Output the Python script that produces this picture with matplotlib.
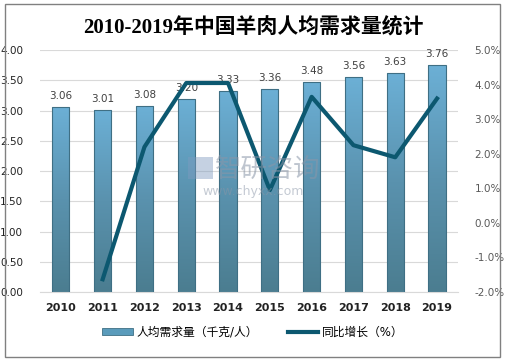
import numpy as np
import matplotlib.pyplot as plt
from matplotlib.patches import Rectangle
from matplotlib.lines import Line2D
from matplotlib.colors import LinearSegmentedColormap

plt.rcParams['font.family'] = ['DejaVu Sans', 'Noto Sans CJK SC']

# DADOS
anos = ['2010', '2011', '2012', '2013', '2014', '2015', '2016', '2017', '2018', '2019']
demanda = [3.06, 3.01, 3.08, 3.20, 3.33, 3.36, 3.48, 3.56, 3.63, 3.76]
anos_linha = ['2011', '2012', '2013', '2014', '2015', '2016', '2017', '2018', '2019']
crescimento = [-1.63, 2.2, 4.05, 4.05, 0.95, 3.65, 2.25, 1.9, 3.6]

fig = plt.figure(figsize=(5.06, 3.61), dpi=100)
ax = fig.add_axes([0.079, 0.191, 0.826, 0.670])

x = np.arange(len(anos))
grad = LinearSegmentedColormap.from_list('g', ['#4b7d90', '#5a92ae', '#6cb0d6'])
bars = ax.bar(x, demanda, width=0.41, color='none', edgecolor='#3f6f84', linewidth=0.8, zorder=3)
img = np.linspace(0, 1, 256).reshape(-1, 1)
for b in bars:
    im = ax.imshow(img, cmap=grad, origin='lower', aspect='auto',
                   extent=[b.get_x(), b.get_x() + b.get_width(), 0, b.get_height()], zorder=2)
    im.set_clip_path(b)
for xi, v in zip(x, demanda):
    ax.text(xi, v + 0.1, f'{v:.2f}', ha='center', va='bottom', fontsize=7.5, color='#404040', zorder=1)

ax.set_xlim(-0.5, len(anos) - 0.5)
ax.set_ylim(0, 4)
ax.set_yticks(np.arange(0, 4.01, 0.5))
ax.set_yticklabels([f'{v:.2f}' for v in np.arange(0, 4.01, 0.5)], fontsize=7.5, color='#222222')
ax.set_xticks(x)
ax.set_xticklabels(anos, fontsize=8, fontweight='bold', color='#222222')
ax.tick_params(axis='both', length=0)
ax.tick_params(axis='y', pad=12)
ax.tick_params(axis='x', pad=8)
ax.grid(axis='y', color='#d9d9d9', linewidth=0.8, zorder=0)
ax.set_axisbelow(True)
for s in ['top', 'right', 'left']:
    ax.spines[s].set_visible(False)
ax.spines['bottom'].set_color('#d9d9d9')

ax2 = ax.twinx()
xl = [anos.index(a) for a in anos_linha]
ax2.plot(xl, crescimento, color='#0c5870', linewidth=3, zorder=5)
ax2.set_ylim(-2, 5)
ax2.set_yticks(np.arange(-2, 5.01, 1))
ax2.set_yticklabels([f'{v:.1f}%' for v in np.arange(-2, 5.01, 1)], fontsize=7.5, color='#595959')
ax2.tick_params(axis='y', length=0, pad=12)
for s in ['top', 'right', 'left', 'bottom']:
    ax2.spines[s].set_visible(False)

# MARCA D'AGUA
fig.text(0.425, 0.53, '智研咨询', fontsize=19, color='#8a96a8', alpha=0.55,
         family='Noto Sans CJK SC', va='center')
fig.text(0.40, 0.47, 'www.chyxx.com', fontsize=9, color='#8a96a8', alpha=0.5, va='center')
fig.patches.append(Rectangle((0.372, 0.505), 0.048, 0.06, transform=fig.transFigure,
                             facecolor='#7f9bc0', alpha=0.45, figure=fig))

fig.text(0.5, 0.922, '2010-2019年中国羊肉人均需求量统计', ha='center', va='center',
         fontsize=15, fontweight='bold', family=['Liberation Serif', 'Noto Sans CJK SC'])

handles = [Rectangle((0, 0), 1, 1, facecolor='#5a9bbb', edgecolor='#3f6f84', linewidth=0.6),
           Line2D([0], [0], color='#0c5870', linewidth=3)]
fig.legend(handles, ['人均需求量（千克/人）', '同比增长（%）'], loc='center',
           bbox_to_anchor=(0.50, 0.08), ncol=2, frameon=False,
           handlelength=2.6, handleheight=0.6, columnspacing=2.5, handletextpad=0.3,
           prop={'family': ['DejaVu Sans', 'Noto Sans CJK SC'], 'size': 8.5})

fig.patches.append(Rectangle((0.009, 0.012), 0.98, 0.976, transform=fig.transFigure,
                             fill=False, edgecolor='#808080', linewidth=1, figure=fig))

fig.savefig('out.png', dpi=100)
